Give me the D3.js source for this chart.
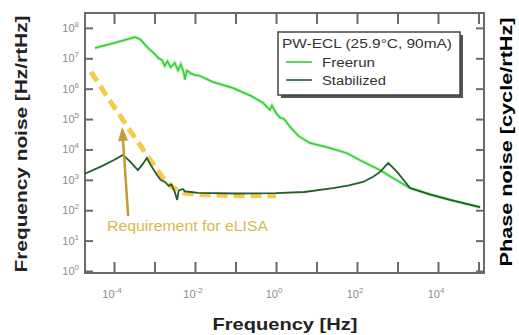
<!DOCTYPE html>
<html>
<head>
<meta charset="utf-8">
<script src="https://cdn.jsdelivr.net/npm/d3@7"></script>
<style>
  body { margin: 0; background: #fff; }
  svg { display: block; font-family: "Liberation Sans", Arial, sans-serif; }
</style>
</head>
<body>
<div id="chart"></div>
<script>
// data as log10(frequency), log10(noise)
var freerunLogF = [-4.47, -4.0, -3.6, -3.48, -3.35, -3.16, -3.0, -2.9, -2.81, -2.75, -2.68, -2.6, -2.5, -2.42, -2.35, -2.28, -2.25, -2.2, -2.1, -2.0,
  -1.88, -1.56, -1.06, -0.6, -0.32, -0.15, -0.1, 0.0, 0.1, 0.2, 0.35, 0.55, 0.84, 1.33, 1.75, 2.07, 2.57, 2.9, 3.31, 3.8, 4.3, 5.04];
var freerunLogV = [7.34, 7.5, 7.65, 7.7, 7.62, 7.34, 7.15, 7.0, 6.94, 6.75, 6.9, 6.7, 6.85, 6.6, 6.8, 6.55, 6.3, 6.6, 6.5, 6.45,
  6.42, 6.22, 6.02, 5.75, 5.53, 5.3, 5.45, 5.2, 5.05, 5.0, 4.74, 4.45, 4.21, 4.05, 3.88, 3.65, 3.32, 3.05, 2.73, 2.52, 2.34, 2.1];

var stabLogF = [-4.72, -4.3, -4.0, -3.78, -3.6, -3.41, -3.3, -3.19, -3.1, -2.94, -2.85, -2.74, -2.65, -2.58, -2.5, -2.44, -2.4, -2.3, -2.25, -2.1,
  -1.93, -1.0, 0.0, 0.7, 1.41, 1.8, 2.15, 2.4, 2.57, 2.7, 2.77, 2.85, 2.99, 3.31, 3.8, 4.3, 5.04];
var stabLogV = [3.2, 3.45, 3.65, 3.82, 3.6, 3.32, 3.5, 3.72, 3.5, 3.16, 3.0, 2.93, 2.8, 2.85, 2.6, 2.34, 2.65, 2.7, 2.62, 2.6,
  2.57, 2.55, 2.56, 2.6, 2.73, 2.82, 2.93, 3.1, 3.26, 3.45, 3.55, 3.45, 3.26, 2.73, 2.52, 2.34, 2.1];

var elisaLogF = [-4.57, -4.0, -3.5, -3.0, -2.75, -2.55, -2.3, -2.0, -1.0, 0.0];
var elisaLogV = [6.55, 5.4, 4.42, 3.45, 3.0, 2.75, 2.58, 2.52, 2.48, 2.48];

var xTickExp = [-4, -3, -2, -1, 0, 1, 2, 3, 4, 5];
var xLabelExp = [-4, -2, 0, 2, 4];
var yTickExp = [0, 1, 2, 3, 4, 5, 6, 7, 8];

var legendTitle = "PW-ECL (25.9°C, 90mA)";
var seriesNames = ["Freerun", "Stabilized"];

var W = 519, H = 335;
var pLeft = 85, pRight = 484, pTop = 13, pBottom = 273;

var svg = d3.select("#chart").append("svg").attr("width", W).attr("height", H);

var x = d3.scaleLog().domain([Math.pow(10, -4.716), Math.pow(10, 5.136)]).range([pLeft, pRight]);
var y = d3.scaleLog().domain([Math.pow(10, -0.066), Math.pow(10, 8.49)]).range([pBottom, pTop]);

function pts(lf, lv) {
  return lf.map(function (f, i) { return [Math.pow(10, f), Math.pow(10, lv[i])]; });
}
var line = d3.line().x(function (d) { return x(d[0]); }).y(function (d) { return y(d[1]); });

var axisColor = "#6a6a6a";
var xt = xTickExp.map(function (e) { return Math.pow(10, e); });
var yt = yTickExp.map(function (e) { return Math.pow(10, e); });

// axes, ticks pointing inward
function styleAxis(g) {
  g.select(".domain").remove();
  g.selectAll(".tick line").attr("stroke", axisColor).attr("stroke-width", 2);
  g.selectAll(".tick text").remove();
}
svg.append("g").attr("transform", "translate(0," + pBottom + ")")
  .call(d3.axisBottom(x).tickValues(xt).tickSize(-11).tickFormat("")).call(styleAxis);
svg.append("g").attr("transform", "translate(0," + pTop + ")")
  .call(d3.axisTop(x).tickValues(xt).tickSize(-11).tickFormat("")).call(styleAxis);
svg.append("g").attr("transform", "translate(" + pLeft + ",0)")
  .call(d3.axisLeft(y).tickValues(yt).tickSize(-8).tickFormat("")).call(styleAxis);
svg.append("g").attr("transform", "translate(" + pRight + ",0)")
  .call(d3.axisRight(y).tickValues(yt).tickSize(-8).tickFormat("")).call(styleAxis);

svg.append("rect").attr("x", pLeft).attr("y", pTop).attr("width", pRight - pLeft).attr("height", pBottom - pTop)
  .attr("fill", "none").attr("stroke", axisColor).attr("stroke-width", 2);

// tick labels
var labColor = "#8a8a8a";
function pow10(sel, e) {
  sel.append("tspan").text("10");
  sel.append("tspan").attr("dy", -5).attr("font-size", 8).text(e);
}
xLabelExp.forEach(function (e) {
  svg.append("text").attr("x", x(Math.pow(10, e)) - 2).attr("y", pBottom + 25)
    .attr("text-anchor", "middle").attr("font-size", 11).attr("fill", labColor).call(pow10, e);
});
yTickExp.forEach(function (e) {
  svg.append("text").attr("x", 79).attr("y", y(Math.pow(10, e)) + 4)
    .attr("text-anchor", "end").attr("font-size", 11).attr("fill", labColor).call(pow10, e);
});

// curves
svg.append("clipPath").attr("id", "plot").append("rect")
  .attr("x", pLeft).attr("y", pTop).attr("width", pRight - pLeft).attr("height", pBottom - pTop);
var plot = svg.append("g").attr("clip-path", "url(#plot)");

plot.append("path").datum(pts(elisaLogF, elisaLogV)).attr("d", line)
  .attr("fill", "none").attr("stroke", "#f2c22e").attr("stroke-width", 5)
  .attr("stroke-dasharray", "11,6").attr("opacity", 0.85);

plot.append("path").datum(pts(freerunLogF, freerunLogV)).attr("d", line)
  .attr("fill", "none").attr("stroke", "#8ef08e").attr("stroke-width", 3.5).attr("opacity", 0.6);
plot.append("path").datum(pts(freerunLogF, freerunLogV)).attr("d", line)
  .attr("fill", "none").attr("stroke", "#36c836").attr("stroke-width", 1.5);

plot.append("path").datum(pts(stabLogF, stabLogV)).attr("d", line)
  .attr("fill", "none").attr("stroke", "#235e2c").attr("stroke-width", 1.8);

// eLISA annotation
var tip = [x(Math.pow(10, -3.80)), y(Math.pow(10, 4.74))];
var tail = [x(Math.pow(10, -3.65)), y(Math.pow(10, 1.81))];
var arrowColor = "#c39a35";
var ang = Math.atan2(tip[1] - tail[1], tip[0] - tail[0]);
function rot(dx, dy) {
  return [tip[0] + dx * Math.cos(ang) - dy * Math.sin(ang), tip[1] + dx * Math.sin(ang) + dy * Math.cos(ang)];
}
var neck = rot(-10, 0);
svg.append("line").attr("x1", tail[0]).attr("y1", tail[1]).attr("x2", neck[0]).attr("y2", neck[1])
  .attr("stroke", arrowColor).attr("stroke-width", 2.5);
svg.append("polygon").attr("points", [rot(0, 0), rot(-14, -5), rot(-14, 5)].map(function (p) { return p.join(","); }).join(" "))
  .attr("fill", arrowColor);

svg.append("text").attr("x", 107).attr("y", 231).attr("font-size", 14).attr("fill", "#d8b94e")
  .attr("textLength", 161).attr("lengthAdjust", "spacingAndGlyphs").text("Requirement for eLISA");

// legend
var lg = svg.append("g");
lg.append("rect").attr("x", 281).attr("y", 35).attr("width", 182).attr("height", 63).attr("fill", "#555");
lg.append("rect").attr("x", 278).attr("y", 32).attr("width", 182).attr("height", 63)
  .attr("fill", "#fff").attr("stroke", "#444").attr("stroke-width", 1.5);
lg.append("text").attr("x", 282).attr("y", 48).attr("font-size", 12.5).attr("fill", "#333")
  .attr("textLength", 170).attr("lengthAdjust", "spacingAndGlyphs").text(legendTitle);
var legColors = ["#36c836", "#235e2c"];
var legLen = [53, 64];
seriesNames.forEach(function (n, i) {
  var yy = 62 + i * 18;
  lg.append("line").attr("x1", 286).attr("x2", 312).attr("y1", yy).attr("y2", yy)
    .attr("stroke", legColors[i]).attr("stroke-width", 1.6);
  lg.append("text").attr("x", 322).attr("y", yy + 4.5).attr("font-size", 12.5).attr("fill", "#333")
    .attr("textLength", legLen[i]).attr("lengthAdjust", "spacingAndGlyphs").text(n);
});

// axis titles
svg.append("text").attr("transform", "translate(27,144) rotate(-90)").attr("text-anchor", "middle")
  .attr("font-size", 17).attr("font-weight", "bold").attr("fill", "#222")
  .attr("textLength", 257).attr("lengthAdjust", "spacingAndGlyphs").text("Frequency noise [Hz/rtHz]");
svg.append("text").attr("transform", "translate(512,142) rotate(-90)").attr("text-anchor", "middle")
  .attr("font-size", 17).attr("font-weight", "bold").attr("fill", "#000")
  .attr("textLength", 249).attr("lengthAdjust", "spacingAndGlyphs").text("Phase noise [cycle/rtHz]");
svg.append("text").attr("x", 285).attr("y", 330).attr("text-anchor", "middle")
  .attr("font-size", 17).attr("font-weight", "bold").attr("fill", "#222")
  .attr("textLength", 145).attr("lengthAdjust", "spacingAndGlyphs").text("Frequency [Hz]");
</script>
</body>
</html>
